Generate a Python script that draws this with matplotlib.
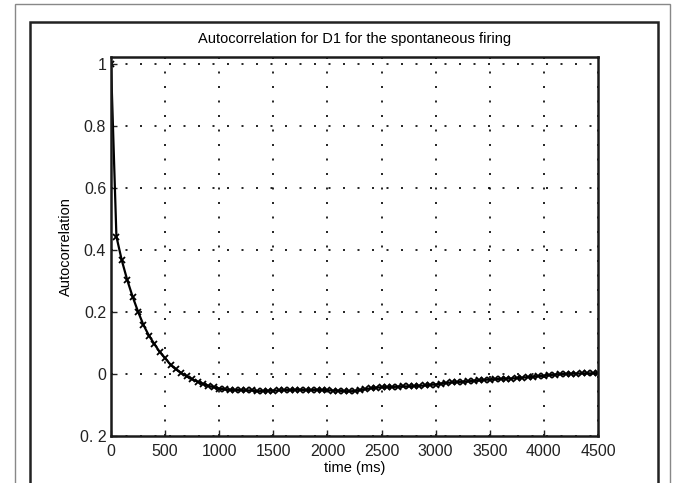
import numpy as np
import matplotlib.pyplot as plt
from matplotlib.patches import Rectangle

plt.rcParams['font.family'] = ['Liberation Sans', 'DejaVu Sans']

# Data (lag in ms, autocorrelation)
lag_ms = np.arange(0, 4501, 50)
autocorr = [
    1.000, 0.443, 0.366, 0.303, 0.249, 0.201, 0.158, 0.124, 0.097, 0.071,
    0.051, 0.030, 0.015, 0.003, -0.008, -0.017, -0.025, -0.032, -0.038, -0.043,
    -0.047, -0.050, -0.051, -0.052, -0.052, -0.053, -0.053, -0.056, -0.055, -0.054,
    -0.054, -0.053, -0.052, -0.052, -0.051, -0.051, -0.052, -0.052, -0.051, -0.052,
    -0.052, -0.054, -0.054, -0.055, -0.056, -0.055, -0.052, -0.049, -0.046, -0.044,
    -0.043, -0.042, -0.042, -0.041, -0.040, -0.040, -0.039, -0.038, -0.037, -0.035,
    -0.034, -0.031, -0.029, -0.027, -0.026, -0.025, -0.024, -0.022, -0.021, -0.019,
    -0.018, -0.017, -0.016, -0.015, -0.015, -0.013, -0.012, -0.010, -0.009, -0.007,
    -0.006, -0.004, -0.002, -0.001, 0.000, 0.001, 0.001, 0.002, 0.002, 0.002,
    0.003,
]
x_ticks = [0, 500, 1000, 1500, 2000, 2500, 3000, 3500, 4000, 4500]
y_ticks = [-0.2, 0, 0.2, 0.4, 0.6, 0.8, 1]
y_tick_labels = ['0. 2', '0', '0.2', '0.4', '0.6', '0.8', '1']

fig = plt.figure(figsize=(6.73, 4.83), dpi=100)
ax = fig.add_axes([111 / 673, 47 / 483, 487 / 673, 379 / 483])

# frames around the figure
fig.patches.append(Rectangle((15 / 673, -0.1), 655 / 673, 1.1 - 4 / 483,
                             transform=fig.transFigure, fill=False,
                             edgecolor='#888888', lw=1.0))
fig.patches.append(Rectangle((30 / 673, -0.1), 628 / 673, 1.1 - 22 / 483,
                             transform=fig.transFigure, fill=False,
                             edgecolor='#222222', lw=1.8))

ax.plot(lag_ms, autocorr, color='black', lw=1.6, marker='x', ms=5, mew=1.3)

ax.set_xlim(0, 4500)
ax.set_ylim(-0.2, 1.022)
ax.set_xticks(x_ticks)
ax.set_yticks(y_ticks)
ax.set_yticklabels(y_tick_labels)
ax.tick_params(direction='in', length=4, width=1, labelsize=11.5, colors='#222222')
ax.tick_params(axis='x', pad=6)
ax.grid(True, color='black', linestyle=(0, (1.2, 7.5)), lw=1.2)
for s in ax.spines.values():
    s.set_linewidth(1.8)
    s.set_color('#1a1a1a')

ax.set_title('Autocorrelation for D1 for the spontaneous firing', fontsize=10.5, pad=10)
ax.set_xlabel('time (ms)', fontsize=10.5, labelpad=1)
ax.set_ylabel('Autocorrelation', fontsize=10.5, labelpad=5)

fig.savefig('out.png', dpi=100)
